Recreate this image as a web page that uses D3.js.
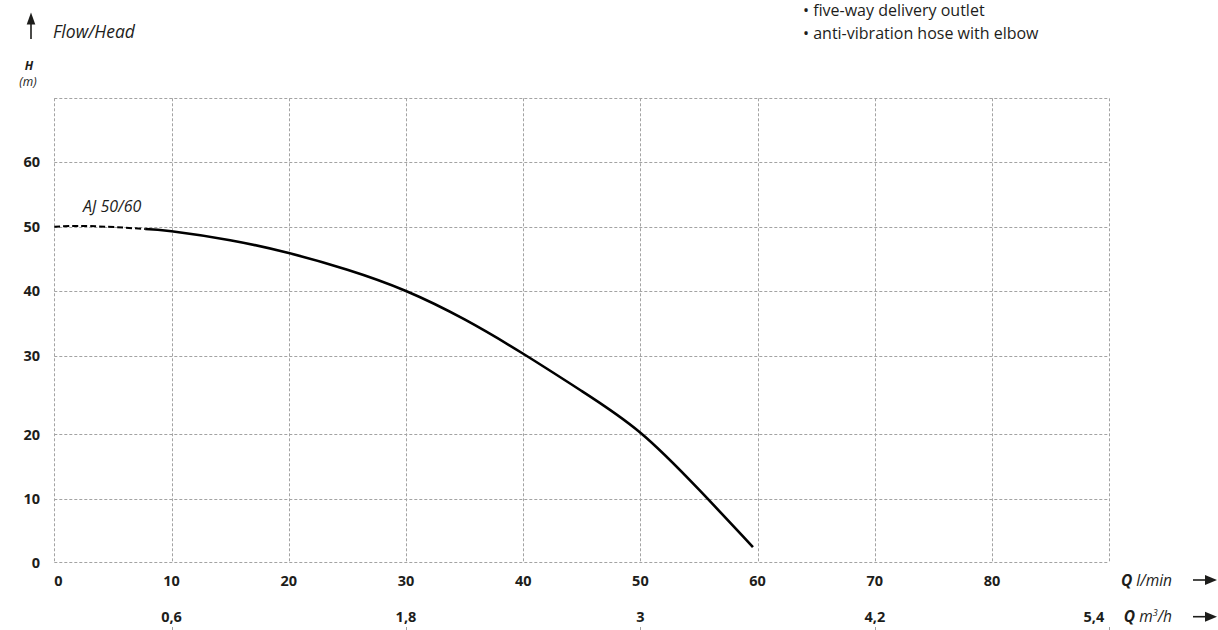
<!DOCTYPE html>
<html>
<head>
<meta charset="utf-8">
<script src="https://cdn.jsdelivr.net/npm/d3@7/dist/d3.min.js"></script>
<style>
  html, body { margin: 0; padding: 0; background: #fff; }
  svg { display: block; font-family: "Open Sans", "DejaVu Sans", sans-serif; }
</style>
</head>
<body>
<svg id="chart" width="1218" height="630"></svg>
<script>
// ---------- DATA ----------
const flowTicks = [0, 10, 20, 30, 40, 50, 60, 70, 80];          // l/min labels
const flowGrid = [0, 10, 20, 30, 40, 50, 60, 70, 80, 90];       // vertical grid lines
const m3hTickPos = [10, 30, 50, 70, 90];                        // in l/min
const m3hLabels = ["0,6", "1,8", "3", "4,2", "5,4"];
const headTicks = [0, 10, 20, 30, 40, 50, 60];                   // m labels
const headGrid = [0, 10, 20, 30, 40, 50, 60, 70];                // horizontal grid lines

const curveName = "AJ 50/60";
const dashedQ = [0, 3, 7.75];
const dashedH = [50, 50.1, 49.65];
const solidQ = [7.75, 10, 15, 20, 25, 30, 35, 40, 45, 50, 55, 59.6];
const solidH = [49.65, 49.3, 47.9, 45.9, 43.3, 40.0, 35.6, 30.3, 25.5, 20.2, 11.4, 2.4];

const bullets = ["five-way delivery outlet", "anti-vibration hose with elbow"];

// ---------- LAYOUT ----------
const svg = d3.select("#chart");
const textColor = "#1d1d1b";
const gridColor = "#a3a3a3";

const x = d3.scaleLinear().domain([0, 90]).range([54.3, 1109.3]);
// the chart's head axis is not uniform (the 20–30 band is taller)
const y = d3.scaleLinear().domain(headGrid)
  .range([562.3, 498.7, 434.3, 355.7, 291, 226.7, 162, 98.3]);

// grid
const grid = svg.append("g").attr("stroke", gridColor).attr("stroke-width", 1)
  .attr("stroke-dasharray", "3,2").attr("fill", "none");
grid.selectAll("line.v").data(flowGrid).join("line")
  .attr("class", "v")
  .attr("x1", d => Math.round(x(d)) + 0.5).attr("x2", d => Math.round(x(d)) + 0.5)
  .attr("y1", y(70)).attr("y2", y(0));
grid.selectAll("line.h").data(headGrid).join("line")
  .attr("class", "h")
  .attr("x1", x(0)).attr("x2", x(90))
  .attr("y1", d => Math.round(y(d)) + 0.5).attr("y2", d => Math.round(y(d)) + 0.5);

// small ticks under m3/h labels (bottom edge)
grid.selectAll("line.t").data(m3hTickPos).join("line")
  .attr("class", "t")
  .attr("x1", d => Math.round(x(d)) + 0.5).attr("x2", d => Math.round(x(d)) + 0.5)
  .attr("y1", 627).attr("y2", 636);

// y tick labels
svg.append("g").selectAll("text").data(headTicks).join("text")
  .attr("x", 40).attr("y", d => y(d)).attr("dy", "0.36em")
  .attr("text-anchor", "end").attr("font-weight", "bold").attr("font-size", 14.5)
  .attr("fill", textColor).text(d => d);

// x tick labels (l/min)
svg.append("g").selectAll("text").data(flowTicks).join("text")
  .attr("x", d => x(d))
  .attr("y", 586)
  .attr("text-anchor", d => d === 0 ? "start" : "middle")
  .attr("font-weight", "bold").attr("font-size", 14.5)
  .attr("fill", textColor).text(d => d);

// m3/h labels
svg.append("g").selectAll("text").data(m3hTickPos).join("text")
  .attr("x", (d, i) => i === m3hTickPos.length - 1 ? x(d) - 5 : x(d))
  .attr("y", 622)
  .attr("text-anchor", (d, i) => i === m3hTickPos.length - 1 ? "end" : "middle")
  .attr("font-weight", "bold").attr("font-size", 14.5)
  .attr("fill", textColor).text((d, i) => m3hLabels[i]);

// axis unit labels
const q1 = svg.append("text").attr("x", 1172).attr("y", 586).attr("text-anchor", "end")
  .attr("font-size", 15.5).attr("fill", textColor).attr("font-style", "italic");
q1.append("tspan").attr("font-weight", "bold").text("Q");
q1.append("tspan").text(" l/min");

const q2 = svg.append("text").attr("x", 1172).attr("y", 622).attr("text-anchor", "end")
  .attr("font-size", 15.5).attr("fill", textColor).attr("font-style", "italic");
q2.append("tspan").attr("font-weight", "bold").text("Q");
q2.append("tspan").text(" m");
q2.append("tspan").attr("font-size", 9).attr("dy", -6).text("3");
q2.append("tspan").attr("dy", 6).text("/h");

// right arrows
function rightArrow(yy) {
  svg.append("line").attr("x1", 1193).attr("x2", 1208).attr("y1", yy).attr("y2", yy)
    .attr("stroke", textColor).attr("stroke-width", 1.6);
  svg.append("path").attr("d", `M1205,${yy - 5}L1217,${yy}L1205,${yy + 5}Z`).attr("fill", textColor);
}
rightArrow(580);
rightArrow(616.7);

// up arrow + title
svg.append("line").attr("x1", 31).attr("x2", 31).attr("y1", 39).attr("y2", 20)
  .attr("stroke", textColor).attr("stroke-width", 1.6);
svg.append("path").attr("d", "M26.7,24.5L31,12.5L35.3,24.5Z").attr("fill", textColor);
svg.append("text").attr("x", 53).attr("y", 38).attr("font-style", "italic")
  .attr("font-size", 17.5).attr("fill", textColor).text("Flow/Head");

svg.append("text").attr("x", 29).attr("y", 70).attr("text-anchor", "middle")
  .attr("font-style", "italic").attr("font-weight", "bold").attr("font-size", 12)
  .attr("fill", textColor).text("H");
svg.append("text").attr("x", 28).attr("y", 86).attr("text-anchor", "middle")
  .attr("font-style", "italic").attr("font-size", 12)
  .attr("fill", textColor).text("(m)");

// bullets
svg.append("g").selectAll("text").data(bullets).join("text")
  .attr("x", 803).attr("y", (d, i) => 16 + i * 23)
  .attr("font-size", 16).attr("fill", textColor)
  .text(d => "• " + d);

// curve
const line = d3.line().x(d => x(d[0])).y(d => y(d[1])).curve(d3.curveNatural);
svg.append("path").datum(dashedQ.map((q, i) => [q, dashedH[i]]))
  .attr("d", line).attr("fill", "none").attr("stroke", "#000")
  .attr("stroke-width", 2).attr("stroke-dasharray", "6,3");
svg.append("path").datum(solidQ.map((q, i) => [q, solidH[i]]))
  .attr("d", line).attr("fill", "none").attr("stroke", "#000")
  .attr("stroke-width", 2.6);

svg.append("text").attr("x", 83).attr("y", 212).attr("font-style", "italic")
  .attr("font-size", 16).attr("fill", textColor).text(curveName);
</script>
</body>
</html>
